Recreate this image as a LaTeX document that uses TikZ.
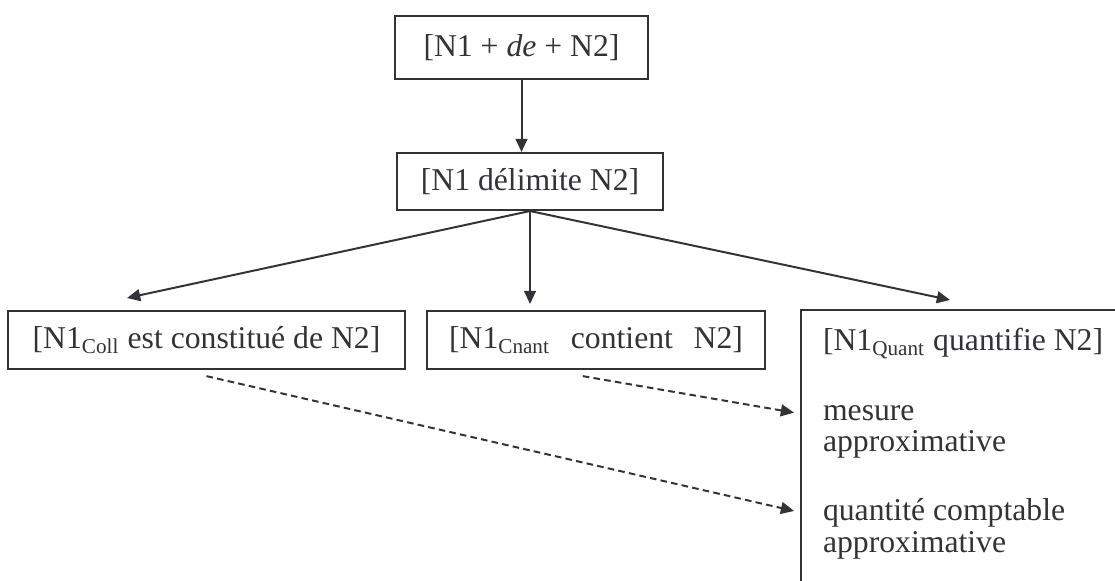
\documentclass[tikz,border=0pt,12pt]{standalone}
\usepackage{fontspec}
\setmainfont{Liberation Serif}
\usetikzlibrary{arrows.meta}
\definecolor{trait}{RGB}{50,50,55}

\begin{document}
\begin{tikzpicture}[x=0.3785pt, y=0.3785pt, color=trait, line width=0.75pt,
		>={Triangle[length=5pt,width=4.5pt]},
		cadre/.style={draw, minimum height=22pt, inner sep=0pt},
		pointille/.style={->, dash pattern=on 2.5pt off 1.6pt, shorten >=2.3pt}]
	\useasboundingbox (0,0) rectangle (1115,-581);
	\clip (0,0) rectangle (1115,-581);

	\node[cadre, minimum width=95.8pt, minimum height=23.8pt] (n-base) at (521.5,-47.5) {[N1 + \textit{de} + N2]};
	\node[cadre, minimum width=100.7pt, minimum height=21.6pt] (n-delim) at (530,-181.5) {[N1 délimite N2]};
	\node[cadre, minimum width=150.3pt] (n-coll) at (206.5,-340) {[N1\textsubscript{Coll} est constitué de N2]};
	\node[cadre, minimum width=127.9pt] (n-cnant) at (596,-340) {[N1\textsubscript{Cnant}\hspace{.65em}contient\hspace{.65em}N2]};
	\node[cadre, anchor=north west, minimum width=130pt, minimum height=110pt] (n-quant) at (800,-309) {};

	\foreach[count=\i] \y/\ligne in {351/{[N1\textsubscript{Quant} quantifie N2]}, 421/mesure, 452/approximative, 520/quantité comptable, 552/approximative} {
		\node[anchor=base west, inner sep=0pt] (t-\i) at (822,-\y) {\ligne};
	}

	\coordinate (p-coll) at (127,-298);
	\coordinate (p-cnant) at (530,-304);
	\coordinate (p-quant) at (950,-300);

	\draw[->] (n-base.south) -- (n-base.south |- n-delim.north);
	\foreach \p in {coll,cnant,quant}
		\draw[->] (n-delim.south) -- (p-\p);

	\draw[pointille] ([yshift=-2.3pt]n-cnant.south) ++(-5pt,0) -- (n-quant.west |- t-2.west);
	\draw[pointille] ([yshift=-2.3pt]n-coll.south) -- (n-quant.west |- t-4.west);
\end{tikzpicture}
\end{document}
